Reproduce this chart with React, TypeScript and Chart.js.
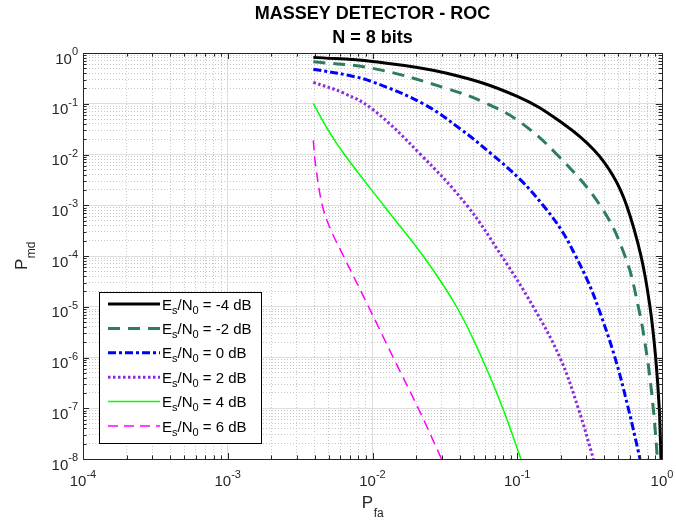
import React, { useEffect, useRef } from 'react';
import { Chart, registerables } from 'chart.js';

Chart.register(...registerables);

// ---- data ----
const EsN0dB = [-4, -2, 0, 2, 4, 6];

const pfaM4 = [0.0039, 0.01, 0.0326, 0.1, 0.209, 0.339, 0.462, 0.569, 0.716, 0.826, 0.904, 0.957, 0.984];
const pmdM4 = [0.82, 0.68, 0.40, 0.14, 0.040, 0.0123, 0.0037, 1e-3, 1e-4, 1e-5, 1e-6, 1e-7, 1e-8];

const pfaM2 = [0.0039, 0.01, 0.0326, 0.062, 0.103, 0.188, 0.373, 0.555, 0.686, 0.79, 0.87, 0.93];
const pmdM2 = [0.67, 0.50, 0.20, 0.1, 0.045, 0.01, 1e-3, 1e-4, 1e-5, 1e-6, 1e-7, 1e-8];

const pfa0 = [0.0039, 0.0068, 0.01, 0.0224, 0.0406, 0.067, 0.1054, 0.1507, 0.203, 0.253, 0.3076, 0.361, 0.473, 0.585, 0.705];
const pmd0 = [0.48, 0.363, 0.27, 0.1, 0.0316, 0.01, 0.00316, 1e-3, 3.16e-4, 1e-4, 3.16e-5, 1e-5, 1e-6, 1e-7, 1e-8];

const pfa2 = [0.0039, 0.0063, 0.01, 0.0215, 0.0448, 0.078, 0.129, 0.197, 0.264, 0.336];
const pmd2 = [0.264, 0.163, 0.078, 1e-2, 1e-3, 1e-4, 1e-5, 1e-6, 1e-7, 1e-8];

const pfa4 = [0.0039, 0.00495, 0.0064, 0.0119, 0.0224, 0.0381, 0.0567, 0.0794, 0.106];
const pmd4 = [0.102, 0.03, 0.01, 1e-3, 1e-4, 1e-5, 1e-6, 1e-7, 1e-8];

const pfa6 = [0.0039, 0.00405, 0.0045, 0.0051, 0.0063, 0.0094, 0.0139, 0.0207, 0.030];
const pmd6 = [0.019, 0.006, 1e-3, 3.5e-4, 1e-4, 1e-5, 1e-6, 1e-7, 1e-8];

const xTickExps = [-4, -3, -2, -1, 0];
const yTickExps = [-8, -7, -6, -5, -4, -3, -2, -1, 0];
const titleLines = ['MASSEY DETECTOR - ROC', 'N = 8 bits'];

const seriesX = [pfaM4, pfaM2, pfa0, pfa2, pfa4, pfa6];
const seriesY = [pmdM4, pmdM2, pmd0, pmd2, pmd4, pmd6];

// ---- styles ----
const styles = [
  { color: '#000000', width: 3, dash: [] as number[] },
  { color: '#2E7D5B', width: 3, dash: [12, 8] },
  { color: '#0000FF', width: 3, dash: [8, 3, 3, 3] },
  { color: '#8A2BE2', width: 3, dash: [2.5, 2.5] },
  { color: '#00FF00', width: 1.5, dash: [] as number[] },
  { color: '#FF00FF', width: 1.5, dash: [10, 6] },
];

const FONT = "'Liberation Sans', Arial, Helvetica, sans-serif";
const AXIS_COLOR = '#262626';

function buildLogTicks(exps: number[]) {
  const t: { value: number; major: boolean }[] = [];
  for (let i = 0; i < exps.length; i++) {
    const e = exps[i];
    t.push({ value: Math.pow(10, e), major: true });
    if (i < exps.length - 1) {
      for (let m = 2; m <= 9; m++) t.push({ value: m * Math.pow(10, e), major: false });
    }
  }
  return t;
}

function drawPow10(ctx: CanvasRenderingContext2D, exp: number, x: number, baseline: number, align: 'center' | 'right') {
  const base = '10';
  const sup = String(exp);
  ctx.font = `15px ${FONT}`;
  const wb = ctx.measureText(base).width;
  ctx.font = `11px ${FONT}`;
  const ws = ctx.measureText(sup).width;
  const total = wb + ws;
  const start = align === 'center' ? x - total / 2 : x - total;
  ctx.textAlign = 'left';
  ctx.textBaseline = 'alphabetic';
  ctx.fillStyle = AXIS_COLOR;
  ctx.font = `15px ${FONT}`;
  ctx.fillText(base, start, baseline);
  ctx.font = `11px ${FONT}`;
  ctx.fillText(sup, start + wb, baseline - 8.5);
}

const decorPlugin = {
  id: 'matlabDecor',
  beforeDraw(chart: any) {
    const ctx = chart.ctx as CanvasRenderingContext2D;
    ctx.save();
    ctx.fillStyle = '#ffffff';
    ctx.fillRect(0, 0, chart.width, chart.height);
    ctx.restore();
  },
  afterDraw(chart: any) {
    const ctx = chart.ctx as CanvasRenderingContext2D;
    const { left, right, top, bottom } = chart.chartArea;
    const xs = chart.scales.x;
    const ys = chart.scales.y;
    ctx.save();

    // tick marks (inward, all four sides)
    ctx.strokeStyle = AXIS_COLOR;
    ctx.lineWidth = 1;
    ctx.setLineDash([]);
    ctx.beginPath();
    for (const t of xs.ticks) {
      const px = Math.round(xs.getPixelForValue(t.value)) + 0.5;
      const len = t.major ? 6 : 3.5;
      ctx.moveTo(px, bottom);
      ctx.lineTo(px, bottom - len);
      ctx.moveTo(px, top);
      ctx.lineTo(px, top + len);
    }
    for (const t of ys.ticks) {
      const py = Math.round(ys.getPixelForValue(t.value)) + 0.5;
      const len = t.major ? 6 : 3.5;
      ctx.moveTo(left, py);
      ctx.lineTo(left + len, py);
      ctx.moveTo(right, py);
      ctx.lineTo(right - len, py);
    }
    ctx.stroke();

    // frame
    ctx.strokeRect(Math.round(left) + 0.5, Math.round(top) + 0.5, Math.round(right - left), Math.round(bottom - top));

    // tick labels
    for (const e of xTickExps) {
      drawPow10(ctx, e, xs.getPixelForValue(Math.pow(10, e)), bottom + 27, 'center');
    }
    for (const e of yTickExps) {
      drawPow10(ctx, e, left - 5, ys.getPixelForValue(Math.pow(10, e)) + 10.5, 'right');
    }

    // axis labels
    const cx = (left + right) / 2;
    const cy = (top + bottom) / 2;
    ctx.fillStyle = AXIS_COLOR;
    ctx.textBaseline = 'alphabetic';
    ctx.textAlign = 'left';
    {
      ctx.font = `17px ${FONT}`;
      const wP = ctx.measureText('P').width;
      ctx.font = `12px ${FONT}`;
      const wS = ctx.measureText('fa').width;
      const st = cx - (wP + wS) / 2;
      ctx.font = `17px ${FONT}`;
      ctx.fillText('P', st, 508);
      ctx.font = `12px ${FONT}`;
      ctx.fillText('fa', st + wP + 0.5, 517);
    }
    {
      ctx.save();
      ctx.translate(27, cy);
      ctx.rotate(-Math.PI / 2);
      ctx.font = `17px ${FONT}`;
      const wP = ctx.measureText('P').width;
      ctx.font = `12px ${FONT}`;
      const wS = ctx.measureText('md').width;
      const st = -(wP + wS) / 2;
      ctx.font = `17px ${FONT}`;
      ctx.fillText('P', st, 0);
      ctx.font = `12px ${FONT}`;
      ctx.fillText('md', st + wP + 0.5, 7.5);
      ctx.restore();
    }

    // title
    ctx.fillStyle = '#000000';
    ctx.textAlign = 'center';
    ctx.font = `bold 18px ${FONT}`;
    ctx.fillText(titleLines[0], cx, 19);
    ctx.fillText(titleLines[1], cx, 43);

    // legend
    const lx = 99.5, ly = 292.5, lw = 162, lh = 151;
    ctx.fillStyle = '#ffffff';
    ctx.fillRect(lx, ly, lw, lh);
    ctx.strokeStyle = '#000000';
    ctx.lineWidth = 1;
    ctx.setLineDash([]);
    ctx.strokeRect(lx, ly, lw, lh);
    for (let i = 0; i < EsN0dB.length; i++) {
      const s = styles[i];
      const y = 304 + i * 24.4;
      ctx.save();
      ctx.strokeStyle = s.color;
      ctx.lineWidth = s.width;
      ctx.setLineDash(s.dash);
      ctx.beginPath();
      ctx.moveTo(108, y);
      ctx.lineTo(160, y);
      ctx.stroke();
      ctx.restore();
      ctx.fillStyle = '#000000';
      ctx.textAlign = 'left';
      let px = 162;
      const base = y + 5.5;
      const pieces: [string, number, number][] = [
        ['E', 15, 0],
        ['s', 11, 4],
        ['/N', 15, 0],
        ['0', 11, 4],
        [` = ${EsN0dB[i]} dB`, 15, 0],
      ];
      for (const [txt, fs, dy] of pieces) {
        ctx.font = `${fs}px ${FONT}`;
        ctx.fillText(txt, px, base + dy);
        px += ctx.measureText(txt).width;
      }
    }
    ctx.restore();
  },
};

export default function App() {
  const ref = useRef<HTMLCanvasElement | null>(null);
  useEffect(() => {
    if (!ref.current) return;
    const datasets = seriesX.map((xs, i) => ({
      label: `Es/N0 = ${EsN0dB[i]} dB`,
      data: xs.map((x, j) => ({ x, y: seriesY[i][j] })),
      borderColor: styles[i].color,
      backgroundColor: styles[i].color,
      borderWidth: styles[i].width,
      borderDash: styles[i].dash,
      pointRadius: 0,
      pointHoverRadius: 0,
      fill: false,
      tension: 0.4,
    }));
    const xTicks = buildLogTicks(xTickExps);
    const yTicks = buildLogTicks(yTickExps);
    const gridColor = (c: any) => (c.tick && c.tick.major ? '#dedede' : '#c8c8c8');
    const gridDash = (c: any) => (c.tick && c.tick.major ? [] : [1, 2]);
    const chart = new Chart(ref.current, {
      type: 'line',
      data: { datasets },
      options: {
        responsive: false,
        maintainAspectRatio: false,
        devicePixelRatio: 1,
        animation: false,
        layout: { padding: { left: 83, right: 14, top: 53, bottom: 62 } },
        plugins: {
          legend: { display: false },
          title: { display: false },
          tooltip: { enabled: false },
        },
        scales: {
          x: {
            type: 'logarithmic',
            min: 1e-4,
            max: 1,
            afterBuildTicks: (scale: any) => {
              scale.ticks = xTicks.map((t) => ({ ...t }));
            },
            ticks: { display: false, autoSkip: false },
            grid: { color: gridColor, lineWidth: 1, drawTicks: false },
            border: { display: false, dash: gridDash },
          },
          y: {
            type: 'logarithmic',
            min: 1e-8,
            max: 1,
            afterBuildTicks: (scale: any) => {
              scale.ticks = yTicks.map((t) => ({ ...t }));
            },
            ticks: { display: false, autoSkip: false },
            grid: { color: gridColor, lineWidth: 1, drawTicks: false },
            border: { display: false, dash: gridDash },
          },
        },
      } as any,
      plugins: [decorPlugin],
    });
    return () => chart.destroy();
  }, []);
  return (
    <div style={{ position: 'absolute', left: 0, top: 0, width: 676, height: 521 }}>
      <canvas ref={ref} width={676} height={521} style={{ width: 676, height: 521, display: 'block' }} />
    </div>
  );
}
